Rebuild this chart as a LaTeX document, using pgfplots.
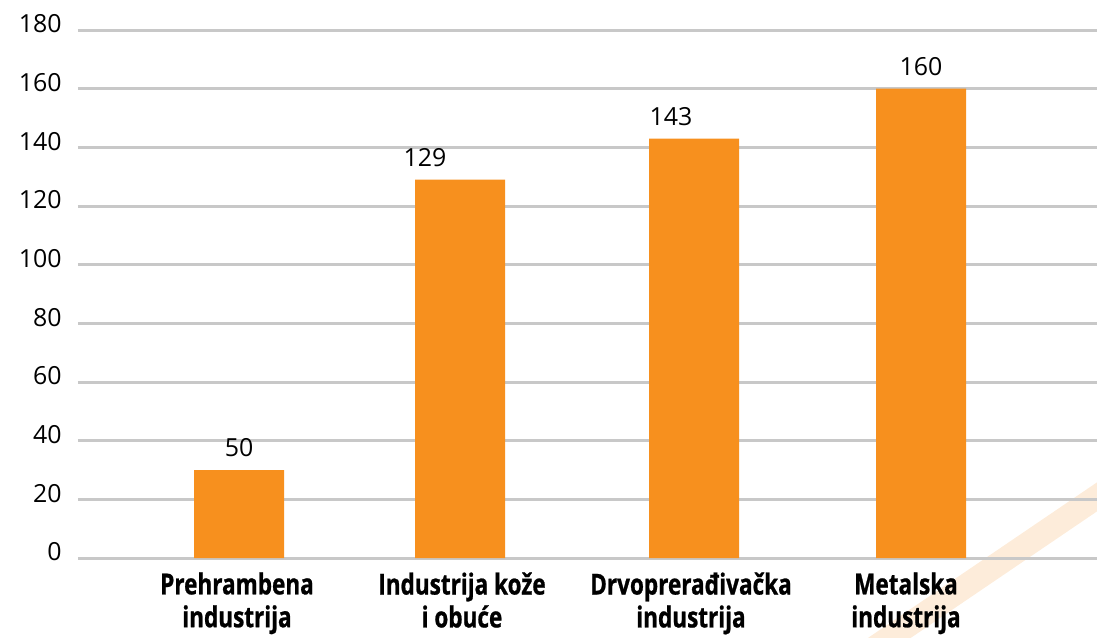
\documentclass[border=0pt]{standalone}
\usepackage{pgfplots}
\usepackage{pgfplotstable}
\pgfplotsset{compat=1.18}
\usepackage{fontspec}
\setmainfont{Open Sans}
\newfontfamily\catfont{Open Sans}[FakeStretch=0.78, FakeBold=0.8]
\definecolor{barorange}{RGB}{247,144,30}
\definecolor{gridgray}{RGB}{200,200,200}
\definecolor{decor}{RGB}{253,236,218}
% bar centres and heights (x in picture pixels)
\pgfplotstableread{
x y
239 30
460 129
694 143
921 160
}\bardata
% value labels as printed in the chart
\pgfplotstableread{
lx ly label
239 30 50
425 129 129
671 143 143
921 160 160
}\labeldata
\begin{document}
\begin{tikzpicture}[x=1bp,y=1bp]
\useasboundingbox (-39,-39.5) rectangle (509.5,279);
\draw[decor, line width=12bp] (385,-54) -- (530,44.5);
\begin{axis}[
  at={(0,0)}, anchor=south west,
  scale only axis, width=509.5bp, height=264bp,
  xmin=78, xmax=1097, ymin=0, ymax=180,
  axis line style={draw=none},
  major tick length=0pt,
  ytick={0,20,...,180},
  ymajorgrids, grid style={gridgray, line width=1.5bp},
  xtick={237,462,691,906},
  xticklabels={{Prehrambena\\industrija},{Industrija kože\\i obuće},{Drvoprerađivačka\\industrija},{Metalska\\industrija}},
  xticklabel style={align=center, font=\catfont\bfseries\fontsize{14.5}{16.5}\selectfont, anchor=north, inner sep=0pt, yshift=-7bp},
  yticklabel style={font=\fontsize{12.5}{15}\selectfont, anchor=east, inner sep=0pt, xshift=-8bp, yshift=3bp},
  /pgf/number format/assume math mode=true,
]
\addplot[ybar, bar width=45bp, fill=barorange, draw=none] table[x=x, y=y]{\bardata};
\addplot[draw=none, mark=none, nodes near coords, point meta=explicit symbolic,
  nodes near coords style={font=\fontsize{12.5}{15}\selectfont, text=black, anchor=south, yshift=3bp}]
  table[x=lx, y=ly, meta=label]{\labeldata};
\end{axis}
\end{tikzpicture}
\end{document}
